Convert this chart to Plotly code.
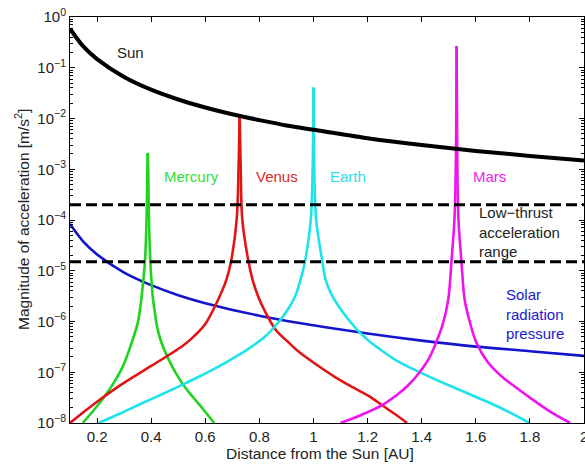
import plotly.graph_objects as go

# Heliocentric distance [AU] and acceleration magnitudes [m/s^2]
sun_r = [0.1, 0.15, 0.2, 0.3, 0.4, 0.5, 0.6, 0.7, 0.8, 0.9, 1.0, 1.2, 1.4, 1.6, 1.8, 2.0]
sun_a = [0.59, 0.26, 0.148, 0.066, 0.037, 0.0237, 0.0165, 0.0121, 0.0093, 0.0073,
         0.0060, 0.0041, 0.0030, 0.0023, 0.00183, 0.00148]

srp_r = [0.1, 0.15, 0.2, 0.3, 0.4, 0.5, 0.6, 0.8, 1.0, 1.2, 1.4, 1.6, 1.8, 2.0]
srp_a = [8.3e-5, 3.7e-5, 2.1e-5, 9.2e-6, 5.2e-6, 3.3e-6, 2.3e-6, 1.3e-6, 8.4e-7,
         5.8e-7, 4.2e-7, 3.2e-7, 2.6e-7, 2.1e-7]

mercury_r = [0.147, 0.187, 0.227, 0.261, 0.295, 0.323, 0.350, 0.362, 0.371, 0.377, 0.383,
             0.386, 0.387, 0.389, 0.392, 0.397, 0.401, 0.406, 0.414, 0.423, 0.436, 0.452,
             0.473, 0.498, 0.523, 0.559, 0.596, 0.633]
mercury_a = [1e-8, 1.76e-8, 3.3e-8, 6.1e-8, 1.29e-7, 3.2e-7, 9.2e-7, 2.3e-6, 6.6e-6, 1.5e-5,
             1e-4, 1e-3, 2.1e-3, 1e-3, 1e-4, 1.5e-5, 6.6e-6, 3.04e-6, 1.47e-6, 7.4e-7,
             4.13e-7, 2.5e-7, 1.45e-7, 8.4e-8, 5.24e-8, 3.04e-8, 1.76e-8, 1e-8]

venus_r = [0.1, 0.16, 0.215, 0.28, 0.344, 0.40, 0.455, 0.516, 0.559, 0.600, 0.640, 0.678,
           0.695, 0.716, 0.723, 0.727, 0.731, 0.737, 0.760, 0.775, 0.797, 0.824, 0.861,
           0.910, 0.947, 1.013, 1.080, 1.150, 1.205, 1.253, 1.301, 1.346]
venus_a = [1e-8, 1.8e-8, 3.01e-8, 5.26e-8, 8.7e-8, 1.33e-7, 2.02e-7, 3.28e-7, 5.15e-7,
           8.93e-7, 2.21e-6, 6.6e-6, 1.5e-5, 1e-4, 1e-3, 1.23e-2, 1e-3, 1e-4, 1.5e-5, 6.6e-6,
           2.97e-6, 1.47e-6, 6.8e-7, 3.77e-7, 2.5e-7, 1.39e-7, 8.05e-8, 4.9e-8, 3.4e-8,
           2.26e-8, 1.5e-8, 1e-8]

earth_r = [0.206, 0.283, 0.356, 0.438, 0.516, 0.578, 0.640, 0.707, 0.762, 0.818, 0.873,
           0.910, 0.932, 0.947, 0.969, 0.990, 0.997, 1.0, 1.003, 1.010, 1.033, 1.045,
           1.068, 1.094, 1.131, 1.168, 1.205, 1.242, 1.304, 1.402, 1.489, 1.574, 1.685, 1.798]
earth_a = [1e-8, 1.52e-8, 2.31e-8, 3.65e-8, 5.69e-8, 8.24e-8, 1.22e-7, 1.95e-7, 2.96e-7,
           4.89e-7, 1.0e-6, 1.89e-6, 3.11e-6, 5.36e-6, 1.56e-5, 1e-4, 1e-3, 4.1e-2, 1e-3,
           1e-4, 1.5e-5, 6.6e-6, 3.3e-6, 1.96e-6, 1.07e-6, 6.3e-7, 4.13e-7, 2.94e-7,
           1.74e-7, 9.5e-8, 5.86e-8, 3.76e-8, 2.07e-8, 1e-8]

mars_r = [1.100, 1.176, 1.254, 1.308, 1.353, 1.393, 1.427, 1.454, 1.478, 1.498, 1.510,
          1.521, 1.526, 1.529, 1.532, 1.536, 1.547, 1.559, 1.576, 1.602, 1.644, 1.698,
          1.744, 1.796, 1.869, 1.949]
mars_a = [1e-8, 1.44e-8, 2.26e-8, 3.56e-8, 5.74e-8, 1.01e-7, 1.87e-7, 3.95e-7, 8.9e-7,
          2.65e-6, 1.5e-5, 1e-4, 1e-3, 0.268, 1e-3, 1e-4, 1.5e-5, 2.65e-6, 1.07e-6, 3.86e-7,
          1.59e-7, 8.05e-8, 5.24e-8, 3.28e-8, 1.76e-8, 1e-8]

# Bounds of the low-thrust acceleration band [m/s^2]
thrust_band = [1.5e-5, 2e-4]

x_range = [0.1, 2.0]
x_ticks = [0.2, 0.4, 0.6, 0.8, 1.0, 1.2, 1.4, 1.6, 1.8, 2.0]
x_ticktext = ["0.2", "0.4", "0.6", "0.8", "1", "1.2", "1.4", "1.6", "1.8", "2"]
y_exponents = [0, -1, -2, -3, -4, -5, -6, -7, -8]

FONT = "Liberation Sans, Arial, sans-serif"
TXT = "#222222"

fig = go.Figure()


def curve(x, y, color, width):
    fig.add_trace(go.Scatter(x=x, y=y, mode="lines",
                             line=dict(color=color, width=width, shape="spline", smoothing=1.0),
                             hoverinfo="skip", showlegend=False))


def planet(x, y, color):
    # draw the two flanks of the close-approach spike separately so the
    # spline smoothing keeps the sharp apex
    k = y.index(max(y))
    curve(x[:k + 1], y[:k + 1], color, 2.6)
    curve(x[k:], y[k:], color, 2.6)


curve(srp_r, srp_a, "#1414cc", 2.6)
planet(mercury_r, mercury_a, "#1fd41f")
planet(venus_r, venus_a, "#e01414")
planet(earth_r, earth_a, "#1fe3ea")
planet(mars_r, mars_a, "#ee14ee")
for level in thrust_band:
    fig.add_trace(go.Scatter(x=x_range, y=[level, level], mode="lines",
                             line=dict(color="black", width=3, dash="11px,5px"),
                             hoverinfo="skip", showlegend=False))
curve(sun_r, sun_a, "black", 4)

L, T, W, H = 70, 17, 514, 406


def px(xp, yp, text, color, xanchor="center", size=15):
    fig.add_annotation(x=(xp - L) / W, y=1 - (yp - T) / H, xref="paper", yref="paper",
                       text=text, showarrow=False, xanchor=xanchor, yanchor="middle",
                       align="left", font=dict(family=FONT, size=size, color=color))


px(130, 52, "Sun", TXT)
px(191.5, 177, "Mercury", "#33dd33")
px(276.5, 177, "Venus", "#e02828")
px(348, 177, "Earth", "#2ee0e6")
px(489, 177, "Mars", "#ee22ee")
px(477, 231.5, "Low\u2212thrust<br>acceleration<br>range", TXT, "left")
px(504, 314, "Solar<br>radiation<br>pressure", "#1a1acc", "left")

# last x tick label sits on the right border of the page
fig.add_annotation(x=x_ticks[-1], y=-(436 - 423) / H, xref="x", yref="paper",
                   text=x_ticktext[-1], showarrow=False, xanchor="center", yanchor="middle",
                   font=dict(family=FONT, size=15, color=TXT))

# axis titles
fig.add_annotation(x=(22 - L) / W, y=0.5, xref="paper", yref="paper",
                   text="Magnitude of acceleration [m/s<sup>2</sup>]", textangle=-90,
                   showarrow=False, xanchor="center", yanchor="middle",
                   font=dict(family=FONT, size=15.5, color=TXT))
fig.add_annotation(x=(320 - L) / W, y=-(453 - 423) / H, xref="paper", yref="paper",
                   text="Distance from the Sun [AU]", showarrow=False,
                   xanchor="center", yanchor="middle",
                   font=dict(family=FONT, size=15.5, color=TXT))

minor_vals = [m * 10.0 ** e for e in range(-8, 0) for m in range(2, 10)]

fig.update_layout(
    width=585, height=465,
    margin=dict(l=L, r=585 - L - W, t=T, b=465 - T - H),
    plot_bgcolor="white", paper_bgcolor="white",
    font=dict(family=FONT, size=15, color=TXT),
    xaxis=dict(range=x_range, tickvals=x_ticks[:-1], ticktext=x_ticktext[:-1],
               showgrid=False, zeroline=False, showline=True, linecolor="black",
               linewidth=1, mirror="ticks", ticks="inside", ticklen=5, tickcolor="black"),
    yaxis=dict(type="log", range=[-8, 0],
               tickvals=[10.0 ** e for e in y_exponents],
               ticktext=["10<sup>%s</sup>" % (str(e).replace("-", "\u2212")) for e in y_exponents],
               showgrid=False, zeroline=False, showline=True, linecolor="black",
               linewidth=1, mirror="ticks", ticks="inside", ticklen=5, tickcolor="black",
               minor=dict(tickvals=minor_vals, ticks="inside", ticklen=3,
                          tickcolor="black", showgrid=False)),
)

fig.write_html("out.html")
